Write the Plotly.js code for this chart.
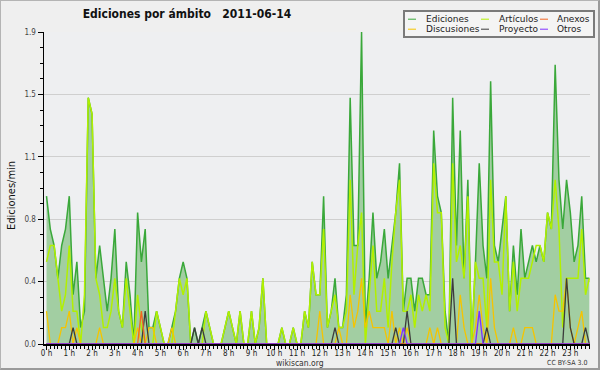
<!DOCTYPE html>
<html><head><meta charset="utf-8">
<script src="https://cdn.plot.ly/plotly-3.0.1.min.js"></script>
<style>
html,body{margin:0;padding:0;background:#efefef}
#wrap{position:relative;width:600px;height:370px}
#chart{width:600px;height:370px}
#frame{position:absolute;left:0;top:0;width:600px;height:370px;box-sizing:border-box;border:1px solid #b4b4b4;border-right:2px solid #9a9a9a;border-bottom:2px solid #9a9a9a;pointer-events:none}
</style>
</head><body><div id="wrap"><div id="chart"></div><div id="frame"></div></div>
<script>
// ---- data (edits per minute, 10-minute buckets, 144 per day) ----
const hourLabels = ['0 h','1 h','2 h','3 h','4 h','5 h','6 h','7 h','8 h','9 h','10 h','11 h',
                    '12 h','13 h','14 h','15 h','16 h','17 h','18 h','19 h','20 h','21 h','22 h','23 h'];

const ediciones = [
 0.9,0.7,0.6,0.4,0.6,0.7,0.9,0.3,0.5,0.1,0.2,1.5,
 1.4,0.4,0.6,0.4,0.2,0.4,0.7,0.2,0.1,0.5,0.3,0,
 0.8,0.5,0.7,0.1,0.1,0.2,0.1,0,0,0.1,0.2,0.4,
 0.5,0.4,0,0.1,0,0.1,0.2,0.1,0,0,0,0.1,
 0.2,0.1,0,0.2,0,0,0.2,0,0.1,0.4,0,0,
 0,0,0.1,0,0,0.1,0,0,0.2,0.1,0.5,0.3,
 0.3,0.9,0.1,0.2,0.4,0.1,0.1,0.3,1.5,0.6,0.6,1.9,
 0.1,0.4,0.8,0.4,0.5,0.7,0.4,0.6,0.8,1.1,0.2,0.4,
 0.4,0.2,0.4,0.4,0.3,0.3,1.3,0.9,0.8,0.2,0,1.5,
 0.6,1.3,0.4,1.0,0,0.5,1.1,0.6,0.4,1.6,0.6,0.5,
 0.7,0.9,0.2,0.6,0.3,0.7,0.4,0.5,0.6,0.5,0.6,0.5,
 0.8,0.7,1.7,1.0,0.7,1.0,0.8,0.5,0.6,0.9,0.4,0.4
];
const articulos = [
 0.5,0.6,0.6,0.4,0.2,0.3,0.6,0.2,0.2,0,0.3,1.5,
 1.4,0.4,0.3,0.1,0.1,0.2,0.4,0.2,0.1,0.4,0.2,0,
 0.3,0.1,0,0,0,0.2,0.1,0,0,0,0.2,0.4,
 0.3,0.4,0,0,0,0,0.2,0.1,0,0,0,0.1,
 0.2,0.1,0,0.2,0,0,0.2,0,0.1,0.4,0,0,
 0,0,0.1,0,0,0.1,0,0,0.2,0.1,0.5,0.3,
 0.3,0.7,0.1,0.2,0.3,0.1,0.1,0.2,1.0,0.3,0.6,0.8,
 0,0.3,0.6,0.2,0.2,0.4,0.1,0.5,0.8,1.0,0.2,0.2,
 0.3,0.1,0.3,0.2,0.3,0.2,1.1,0.8,0.8,0.1,0,1.1,
 0.5,0.6,0.4,0.9,0,0.5,0.4,0.4,0.1,1.0,0.5,0.5,
 0.3,0.9,0.2,0.5,0.2,0.4,0.4,0.4,0.5,0.6,0.6,0.5,
 0.8,0.7,1.0,0.7,0.1,0.4,0.4,0.4,0.4,0.7,0.3,0.4
];
const discusiones = [
 0.2,0,0,0,0.1,0.1,0.2,0,0.1,0,0,0,
 0,0,0.1,0,0,0,0,0,0,0,0,0,
 0.1,0,0,0.1,0.1,0,0,0,0,0.1,0,0,
 0,0,0,0,0,0,0,0,0,0,0,0,
 0,0,0,0,0,0,0,0,0,0,0,0,
 0,0,0,0,0,0,0,0,0,0,0,0,
 0.2,0,0,0,0,0.1,0,0,0.3,0.1,0.2,0.4,
 0.1,0.2,0.1,0.1,0.1,0.1,0,0.2,0,0.1,0,0.1,
 0,0,0,0,0,0.1,0,0.1,0,0,0,0,
 0,0.3,0.1,0,0,0.1,0.3,0.1,0,0.4,0.1,0,
 0,0,0,0.1,0,0,0.1,0.1,0.1,0,0,0,
 0,0,0.3,0.2,0.2,0.4,0.1,0,0.1,0.2,0,0
];
const proyecto = [
 0,0,0,0,0,0,0,0.1,0,0,0,0,
 0,0,0,0,0,0,0,0,0,0,0,0,
 0,0,0.2,0,0,0,0,0,0,0,0,0,
 0,0,0,0.1,0,0.1,0,0,0,0,0,0,
 0,0,0,0,0,0,0,0,0,0,0,0,
 0,0,0,0,0,0,0,0,0,0,0,0,
 0,0,0,0,0.1,0,0,0,0,0,0,0,
 0,0,0,0,0,0,0,0,0.1,0,0,0.2,
 0,0,0,0,0,0,0,0,0,0,0,0.4,
 0,0,0,0,0,0,0,0,0.1,0,0,0,
 0,0,0,0,0,0,0,0,0,0,0,0,
 0,0,0,0,0,0.4,0.1,0,0,0,0.1,0
];
const anexos = [
 0,0,0,0,0,0,0,0,0,0,0,0,
 0,0,0,0,0,0,0,0,0,0,0,0,
 0,0.2,0,0,0,0,0,0,0,0,0,0,
 0,0,0,0,0,0,0,0,0,0,0,0,
 0,0,0,0,0,0,0,0,0,0,0,0,
 0,0,0,0,0,0,0,0,0,0,0,0,
 0,0,0,0,0,0,0,0,0,0,0,0,
 0,0,0,0,0,0,0,0,0,0,0,0,
 0,0,0,0,0,0,0,0,0,0,0,0,
 0,0,0,0,0,0,0,0,0,0,0,0,
 0,0,0,0,0,0,0,0,0,0,0,0,
 0,0,0,0,0,0,0,0,0,0,0,0
];
const otros = [
 0,0,0,0,0,0,0,0,0,0,0,0,
 0,0,0,0,0,0,0,0,0,0,0,0,
 0,0,0,0,0,0,0,0,0,0,0,0,
 0,0,0,0,0,0,0,0,0,0,0,0,
 0,0,0,0,0,0,0,0,0,0,0,0,
 0,0,0,0,0,0,0,0,0,0,0,0,
 0,0,0,0,0,0,0,0,0,0,0,0,
 0,0,0,0,0,0,0,0,0,0,0.1,0,
 0,0,0,0,0,0,0,0,0,0,0,0,
 0,0,0,0,0,0,0.2,0,0,0,0,0,
 0,0,0,0,0,0,0,0,0,0,0,0,
 0,0,0,0,0,0,0,0,0,0,0,0
];
const seriesNames  = ['Ediciones','Artículos','Discusiones','Proyecto','Anexos','Otros'];
const seriesValues = [ediciones, articulos, discusiones, proyecto, anexos, otros];
const yTickVals = [0, 0.38, 0.76, 1.14, 1.52, 1.9];
const yTickText = ['0.0','0.4','0.8','1.1','1.5','1.9'];
const titleText = 'Ediciones por ámbito\u00a0\u00a0 2011-06-14';

// ---- styling ----
const seriesColors = ['#3aa83a','#b2f000','#f5c400','#3c3c3c','#f26522','#8030ff'];
const seriesWidths = [1.5, 1.5, 1.3, 1.3, 1.3, 1.3];
const condensed = 'DejaVu Sans Condensed, DejaVu Sans, sans-serif';
const plain = 'DejaVu Sans, sans-serif';

// x in hours (each bucket = 10 min)
const times = ediciones.map((_, i) => i / 6);
const hourTicks = hourLabels.map((_, h) => h);

const traces = seriesValues.map((vals, k) => {
  const t = {
    type: 'scatter', mode: 'lines', name: seriesNames[k],
    x: times, y: vals,
    line: {color: seriesColors[k], width: seriesWidths[k]},
    hoverinfo: 'skip', cliponaxis: true
  };
  if (k === 0) { t.fill = 'tozeroy'; t.fillcolor = '#a2cea2'; }
  return t;
});

// pixel -> paper helpers (plot area: l=44, t=32, w=546, h=312)
const L = 44, T = 32, W = 546, H = 312;
const px = v => (v - L) / W;
const py = v => (T + H - v) / H;

// legend (drawn with shapes + annotations)
const legendSlots = [[0,0],[1,0],[0,1],[1,1],[2,0],[2,1]]; // [col,row] per series
const colSym = [408, 481, 540], colTxt = [424, 497, 555], rowY = [19.2, 29.2];
const shapes = [{
  type: 'rect', xref: 'paper', yref: 'paper',
  x0: px(404), x1: px(594), y0: py(11), y1: py(37),
  fillcolor: '#f4f4f4', line: {color: '#7a7a7a', width: 2}, layer: 'above'
}];
const annotations = [];
seriesNames.forEach((n, k) => {
  const [c, r] = legendSlots[k];
  shapes.push({type: 'line', xref: 'paper', yref: 'paper',
    x0: px(colSym[c]), x1: px(colSym[c] + 8), y0: py(rowY[r]), y1: py(rowY[r]),
    line: {color: seriesColors[k], width: 1}, layer: 'above'});
  annotations.push({xref: 'paper', yref: 'paper', x: px(colTxt[c]), y: py(rowY[r]),
    xanchor: 'left', yanchor: 'middle', showarrow: false, text: n,
    font: {family: plain, size: 9, color: '#222'}});
});
annotations.push({xref: 'paper', yref: 'paper', x: px(11), y: py(196), textangle: -90,
  xanchor: 'center', yanchor: 'middle', showarrow: false, text: 'Ediciones/min',
  font: {family: condensed, size: 11, color: '#111'}});
annotations.push({xref: 'paper', yref: 'paper', x: px(300), y: py(363),
  xanchor: 'center', yanchor: 'middle', showarrow: false, text: 'wikiscan.org',
  font: {family: condensed, size: 8.5, color: '#333'}});
annotations.push({xref: 'paper', yref: 'paper', x: px(589), y: py(363),
  xanchor: 'right', yanchor: 'middle', showarrow: false, text: 'CC BY-SA 3.0',
  font: {family: condensed, size: 7, color: '#333'}});

const layout = {
  width: 600, height: 370,
  margin: {l: L, r: 600 - L - W, t: T, b: 370 - T - H, pad: 0},
  paper_bgcolor: '#efefef', plot_bgcolor: '#eeeff1',
  showlegend: false, hovermode: false,
  title: {text: '<b>' + titleText + '</b>', xref: 'container', yref: 'container',
    x: 187 / 600, xanchor: 'center', y: 1 - 14 / 370, yanchor: 'middle',
    font: {family: condensed, size: 12, color: '#111'}},
  xaxis: {
    range: [-0.11, 23.863], tickmode: 'array', tickvals: hourTicks, ticktext: hourLabels,
    ticks: 'outside', ticklen: 4, tickwidth: 1, tickcolor: '#000',
    ticklabelstandoff: -3,
    showline: true, linecolor: '#000', linewidth: 1.5, showgrid: false, zeroline: false,
    tickfont: {family: condensed, size: 8, color: '#222'},
    minor: {tickmode: 'linear', tick0: 0, dtick: 1 / 6, ticks: 'outside', ticklen: 3,
            tickwidth: 1, tickcolor: '#000', showgrid: false},
    fixedrange: true
  },
  yaxis: {
    range: [0, 1.9], tickmode: 'array', tickvals: yTickVals, ticktext: yTickText,
    ticks: 'outside', ticklen: 5, tickwidth: 1, tickcolor: '#000',
    showline: true, linecolor: '#000', linewidth: 1.5,
    showgrid: true, gridcolor: '#cfcfcf', gridwidth: 1, zeroline: false,
    tickfont: {family: condensed, size: 8, color: '#444'},
    minor: {tickmode: 'linear', tick0: 0, dtick: 0.095, ticks: 'outside', ticklen: 3,
            tickwidth: 1, tickcolor: '#000', showgrid: false},
    fixedrange: true
  },
  shapes: shapes,
  annotations: annotations
};

Plotly.newPlot('chart', traces, layout, {staticPlot: true, displayModeBar: false});
</script>
</body></html>
